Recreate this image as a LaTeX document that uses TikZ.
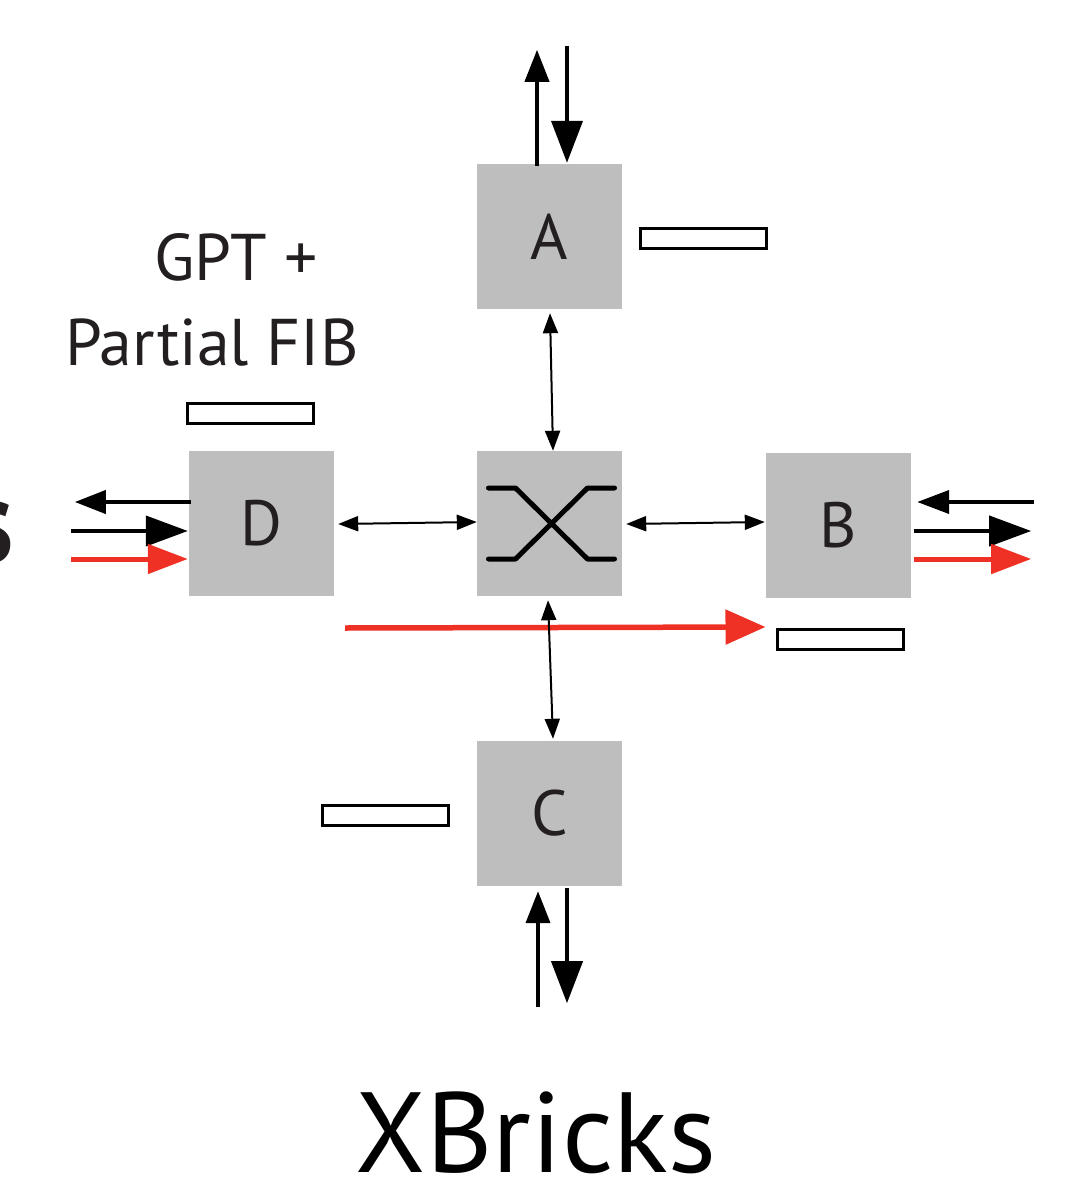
\documentclass[tikz,border=0pt]{standalone}
\usepackage{fontspec}
\setmainfont{PT Sans}
\usetikzlibrary{arrows.meta,calc}
\definecolor{boxgray}{HTML}{BEBEBE}
\definecolor{txt}{HTML}{231F20}
\definecolor{redarr}{HTML}{EE3124}
\begin{document}
\begin{tikzpicture}[x=1pt,y=-1pt,
  box/.style={fill=boxgray, minimum width=145pt, minimum height=145pt, inner sep=0pt, font=\fontsize{64}{64}\selectfont, text=txt},
  tbl/.style={draw=black, line width=3pt, fill=white, minimum width=126pt, minimum height=20pt, inner sep=0pt},
  big/.style={line width=4pt, draw=black},
  redbig/.style={line width=5pt, draw=redarr},
  dbl/.style={line width=2pt, {Triangle[length=20pt,width=15pt]}-{Triangle[length=20pt,width=15pt]}},
  lbl/.style={anchor=base, inner sep=0pt, text=txt}
]
\useasboundingbox (0,0) rectangle (1075,1180);

\node[box] (A) at (549.5,236.5) {A};
\node[box] (S) at (549.5,523.5) {};
\node[box] (D) at (261.5,523.5) {D};
\node[box] (B) at (838.5,525.5) {B};
\node[box] (C) at (549.5,813.5) {C};

\node[tbl] (r1) at (703.5,238.5) {};
\node[tbl] (r2) at (250.5,413.5) {};
\node[tbl] (r3) at (840,639) {};
\node[tbl] (r4) at (385.5,815) {};

% switch symbol
\draw[line width=5pt, line cap=round, line join=round] ($(S)+(-61,-35.5)$) -- ++(27,0) -- ++(72,71) -- ++(27,0);
\draw[line width=5pt, line cap=round, line join=round] ($(S)+(-61,35.5)$) -- ++(27,0) -- ++(72,-71) -- ++(27,0);

% long red arrow
\coordinate (rs) at (345,628);
\draw[line width=5.5pt, draw=redarr, -{Triangle[length=40pt,width=34pt]}, redarr] (rs) -- ($(r3.west)+(-10,-12)$);

% small double arrows
\draw[dbl] ($(A.south)+(0.5,4)$) -- ($(S.north)+(3.5,0)$);
\draw[dbl] ($(S.south)+(-1.5,4)$) -- ($(C.north)+(3.5,-2)$);
\draw[dbl] ($(D.east)+(4,0.5)$) -- ($(S.west)+(0,-1.5)$);
\draw[dbl] ($(S.east)+(4,0.5)$) -- ($(B.west)+(-1,-3.5)$);

% top arrows
\draw[big, -{Triangle[length=32pt,width=24pt]}] ($(A.north)+(-12.5,2)$) -- ($(A.north)+(-12.5,-114)$);
\draw[big, -{Triangle[length=42pt,width=31pt]}] ($(A.north)+(17.5,-118)$) -- ($(A.north)+(17.5,-1)$);
% bottom arrows
\draw[big, -{Triangle[length=32pt,width=24pt]}] ($(C.south)+(-11.5,121)$) -- ($(C.south)+(-11.5,5)$);
\draw[big, -{Triangle[length=42pt,width=31pt]}] ($(C.south)+(17.5,2)$) -- ($(C.south)+(17.5,117)$);
% left arrows
\draw[big, -{Triangle[length=31pt,width=23pt]}] ($(D.west)+(2,-21.5)$) -- ($(D.west)+(-114,-21.5)$);
\draw[big, -{Triangle[length=42pt,width=30pt]}] ($(D.west)+(-118,7.5)$) -- ($(D.west)+(-1,7.5)$);
\draw[redbig, -{Triangle[length=40pt,width=29pt]}, redarr] ($(D.west)+(-118,35.5)$) -- ($(D.west)+(-1,35.5)$);
% right arrows
\draw[big, -{Triangle[length=32pt,width=23pt]}] ($(B.east)+(123,-23.5)$) -- ($(B.east)+(6,-23.5)$);
\draw[big, -{Triangle[length=42pt,width=30pt]}] ($(B.east)+(3,5.5)$) -- ($(B.east)+(120,5.5)$);
\draw[redbig, -{Triangle[length=40pt,width=29pt]}, redarr] ($(B.east)+(3,33.5)$) -- ($(B.east)+(120,33.5)$);

% texts
\node[lbl, font=\fontsize{66}{66}\selectfont] (g1) at (236,280) {GPT +};
\node[lbl, font=\fontsize{66}{66}\selectfont] (g2) at (212,365) {Partial FIB};
\node[lbl, text=black, text depth=0pt, font=\fontsize{114}{114}\selectfont] (xb) at (536,1172) {XBricks};
\node[anchor=base east, inner sep=0pt, text=txt, font=\fontsize{120}{120}\selectfont\bfseries] (s) at (14,562) {s};
\end{tikzpicture}
\end{document}
